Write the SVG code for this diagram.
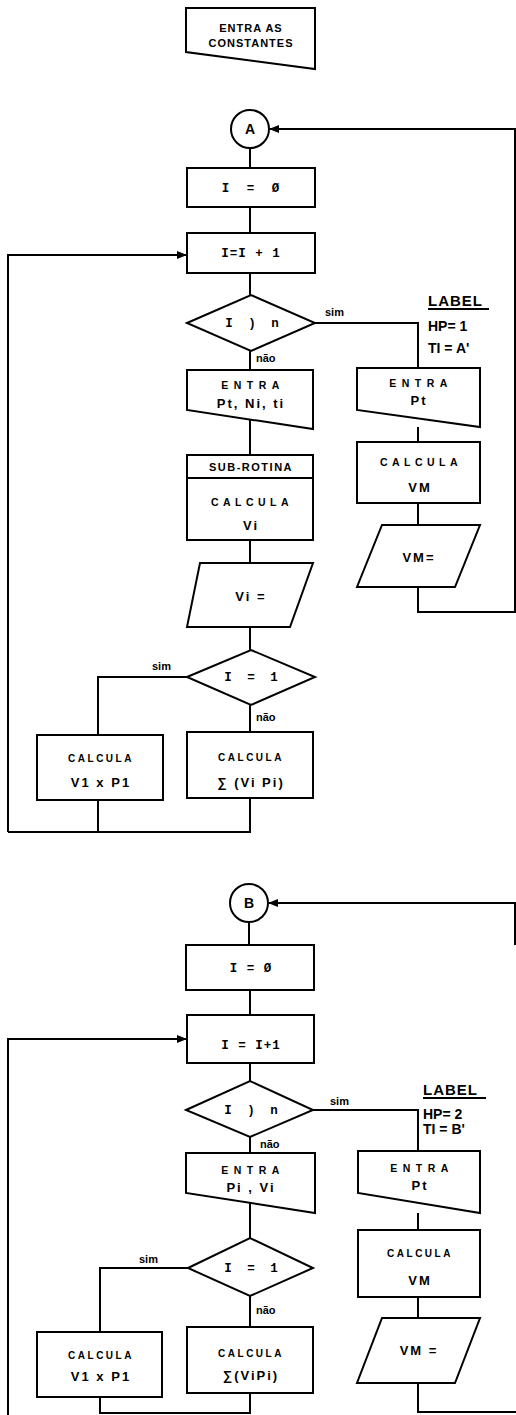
<svg xmlns="http://www.w3.org/2000/svg" width="516" height="1415" viewBox="0 0 516 1415">
<style>
.s{fill:#fff;stroke:#000;stroke-width:2}
.c{fill:none;stroke:#000;stroke-width:2}
text{font-family:"Liberation Sans",Arial,sans-serif;font-weight:bold;fill:#000;text-anchor:middle}
.t9{font-size:11px;letter-spacing:1px}
.sp{font-size:10.5px;letter-spacing:5.5px}
.cl{font-size:10.5px;letter-spacing:4.5px}
.cs{font-size:10px;letter-spacing:2.5px}
.v{font-size:13px;letter-spacing:2px}
.f{font-family:"Liberation Mono",monospace;font-size:12.5px}
.lb{font-size:11px;text-anchor:start}
.lab{font-size:15px;text-anchor:start;letter-spacing:1px}
.hp{font-size:14px;text-anchor:start}
</style>
<defs>
<marker id="ah" markerWidth="10" markerHeight="8" refX="9" refY="4" orient="auto" markerUnits="userSpaceOnUse">
<path d="M0,0 L10,4 L0,8 Z" fill="#000"/>
</marker>
</defs>

<g id="connectors">
<line class="c" x1="250" y1="148" x2="250" y2="168"/>
<line class="c" x1="250" y1="207" x2="250" y2="233"/>
<polyline class="c" points="8,832 8,255 186,255" marker-end="url(#ah)"/>
<line class="c" x1="250" y1="273" x2="250" y2="295"/>
<polyline class="c" points="315,323 418,323 418,368"/>
<line class="c" x1="250" y1="351" x2="250" y2="370"/>
<line class="c" x1="418" y1="427" x2="418" y2="442"/>
<line class="c" x1="418" y1="503" x2="418" y2="525"/>
<polyline class="c" points="418,587 418,612 515,612 515,129 270,129" marker-end="url(#ah)"/>
<line class="c" x1="250" y1="420" x2="250" y2="455"/>
<line class="c" x1="250" y1="540" x2="250" y2="563"/>
<line class="c" x1="250" y1="627" x2="250" y2="650"/>
<polyline class="c" points="187,677 98,677 98,735"/>
<line class="c" x1="250" y1="705" x2="250" y2="732"/>
<polyline class="c" points="98,800 98,832"/>
<polyline class="c" points="250,798 250,832 8,832"/>

<polyline class="c" points="515,945 515,903 269,903" marker-end="url(#ah)"/>
<line class="c" x1="249" y1="922" x2="249" y2="945"/>
<line class="c" x1="250" y1="990" x2="250" y2="1015"/>
<polyline class="c" points="8,1415 8,1039 186,1039" marker-end="url(#ah)"/>
<line class="c" x1="250" y1="1063" x2="250" y2="1081"/>
<polyline class="c" points="313,1110 418,1110 418,1151"/>
<line class="c" x1="250" y1="1137" x2="250" y2="1153"/>
<line class="c" x1="418" y1="1213" x2="418" y2="1230"/>
<line class="c" x1="418" y1="1297" x2="418" y2="1318"/>
<polyline class="c" points="418,1383 418,1412 516,1412"/>
<line class="c" x1="250" y1="1203" x2="250" y2="1238"/>
<polyline class="c" points="188,1268 100,1268 100,1332"/>
<line class="c" x1="250" y1="1296" x2="250" y2="1327"/>
<polyline class="c" points="100,1397 100,1413 250,1413 250,1393"/>
</g>

<g id="n-constantes">
<polygon class="s" points="186,8 315,8 315,69 186,52"/>
<text class="t9" x="251" y="32">ENTRA AS</text>
<text class="t9" x="251" y="47">CONSTANTES</text>
</g>

<!-- Section A -->
<g id="n-A">
<circle class="s" cx="250" cy="129" r="19"/>
<text x="250" y="134" font-size="14">A</text>
</g>
<g id="n-a-i0">
<rect class="s" x="187" y="168" width="128" height="39"/>
<text class="f" x="253" y="192" letter-spacing="5">I = Ø</text>
</g>
<g id="n-a-inc">
<rect class="s" x="187" y="233" width="128" height="40"/>
<text class="f" x="251" y="257" letter-spacing="1">I=I + 1</text>
</g>
<g id="n-a-dec1">
<polygon class="s" points="187,323 251,295 315,323 251,351"/>
<text class="f" x="254" y="327" letter-spacing="4">I ) n</text>
<text class="lb" x="325" y="316">sim</text>
<text class="lb" x="256" y="362">não</text>
</g>
<g id="n-a-label">
<text class="lab" x="428" y="306">LABEL</text>
<line class="c" x1="428" y1="309" x2="489" y2="309"/>
<text class="hp" x="428" y="331">HP= 1</text>
<text class="hp" x="428" y="353">TI = A'</text>
</g>
<g id="n-a-entra">
<polygon class="s" points="187,370 313,370 313,429 187,410"/>
<text class="sp" x="253" y="389">ENTRA</text>
<text class="v" x="251" y="408">Pt, Ni, ti</text>
</g>
<g id="n-a-entra-pt">
<polygon class="s" points="357,368 480,368 480,427 357,410"/>
<text class="sp" x="421" y="387">ENTRA</text>
<text class="v" x="419" y="405">Pt</text>
</g>
<g id="n-a-calc-vm">
<rect class="s" x="357" y="442" width="123" height="61"/>
<text class="cl" x="421" y="466">CALCULA</text>
<text class="v" x="420" y="492" letter-spacing="4">VM</text>
</g>
<g id="n-a-out-vm">
<polygon class="s" points="382,525 480,525 455,587 357,587"/>
<text class="v" x="419" y="562">VM=</text>
</g>
<g id="n-a-sub">
<rect class="s" x="187" y="455" width="126" height="85"/>
<line class="c" x1="187" y1="478" x2="313" y2="478"/>
<text x="251" y="471" font-size="11" letter-spacing="1.5">SUB-ROTINA</text>
<text class="cl" x="252" y="506">CALCULA</text>
<text class="v" x="251" y="530">Vi</text>
</g>
<g id="n-a-out-vi">
<polygon class="s" points="200,563 313,563 290,627 187,627"/>
<text class="v" x="251" y="601">Vi =</text>
</g>
<g id="n-a-dec2">
<polygon class="s" points="187,677 251,650 315,677 251,705"/>
<text class="f" x="253" y="681" letter-spacing="4">I = 1</text>
<text class="lb" x="152" y="670">sim</text>
<text class="lb" x="256" y="721">não</text>
</g>
<g id="n-a-calc1">
<rect class="s" x="37" y="735" width="126" height="65"/>
<text class="cs" x="101" y="762">CALCULA</text>
<text class="v" x="101" y="787" letter-spacing="4">V1 x P1</text>
</g>
<g id="n-a-calc2">
<rect class="s" x="187" y="732" width="126" height="66"/>
<text class="cs" x="251" y="761">CALCULA</text>
<text class="v" x="251" y="787">∑ (Vi Pi)</text>
</g>

<!-- Section B -->
<g id="n-B">
<circle class="s" cx="249" cy="903" r="19"/>
<text x="249" y="908" font-size="14">B</text>
</g>
<g id="n-b-i0">
<rect class="s" x="186" y="945" width="128" height="45"/>
<text class="f" x="251" y="972" letter-spacing="1">I  =  Ø</text>
</g>
<g id="n-b-inc">
<rect class="s" x="187" y="1015" width="127" height="48"/>
<text class="f" x="251" y="1049" letter-spacing="1">I  =  I+1</text>
</g>
<g id="n-b-dec1">
<polygon class="s" points="186,1110 250,1081 313,1110 250,1137"/>
<text class="f" x="253" y="1114" letter-spacing="4">I ) n</text>
<text class="lb" x="330" y="1105">sim</text>
<text class="lb" x="260" y="1148">não</text>
</g>
<g id="n-b-label">
<text class="lab" x="423" y="1095">LABEL</text>
<line class="c" x1="423" y1="1098" x2="486" y2="1098"/>
<text class="hp" x="423" y="1119">HP= 2</text>
<text class="hp" x="423" y="1134">TI = B'</text>
</g>
<g id="n-b-entra">
<polygon class="s" points="186,1153 315,1153 315,1213 186,1193"/>
<text class="sp" x="253" y="1174">ENTRA</text>
<text class="v" x="251" y="1192">Pi , Vi</text>
</g>
<g id="n-b-entra-pt">
<polygon class="s" points="358,1151 480,1151 480,1213 358,1193"/>
<text class="sp" x="422" y="1172">ENTRA</text>
<text class="v" x="420" y="1190">Pt</text>
</g>
<g id="n-b-calc-vm">
<rect class="s" x="358" y="1230" width="122" height="67"/>
<text class="cs" x="420" y="1257">CALCULA</text>
<text class="v" x="420" y="1285" letter-spacing="4">VM</text>
</g>
<g id="n-b-out-vm">
<polygon class="s" points="382,1318 480,1318 455,1383 357,1383"/>
<text class="v" x="419" y="1355">VM =</text>
</g>
<g id="n-b-dec2">
<polygon class="s" points="188,1268 250,1238 313,1268 250,1296"/>
<text class="f" x="253" y="1272" letter-spacing="4">I = 1</text>
<text class="lb" x="139" y="1263">sim</text>
<text class="lb" x="256" y="1314">não</text>
</g>
<g id="n-b-calc1">
<rect class="s" x="37" y="1332" width="125" height="65"/>
<text class="cs" x="101" y="1359">CALCULA</text>
<text class="v" x="101" y="1381" letter-spacing="4">V1 x P1</text>
</g>
<g id="n-b-calc2">
<rect class="s" x="187" y="1327" width="126" height="66"/>
<text class="cs" x="251" y="1357">CALCULA</text>
<text class="v" x="251" y="1380">∑(ViPi)</text>
</g>
</svg>
